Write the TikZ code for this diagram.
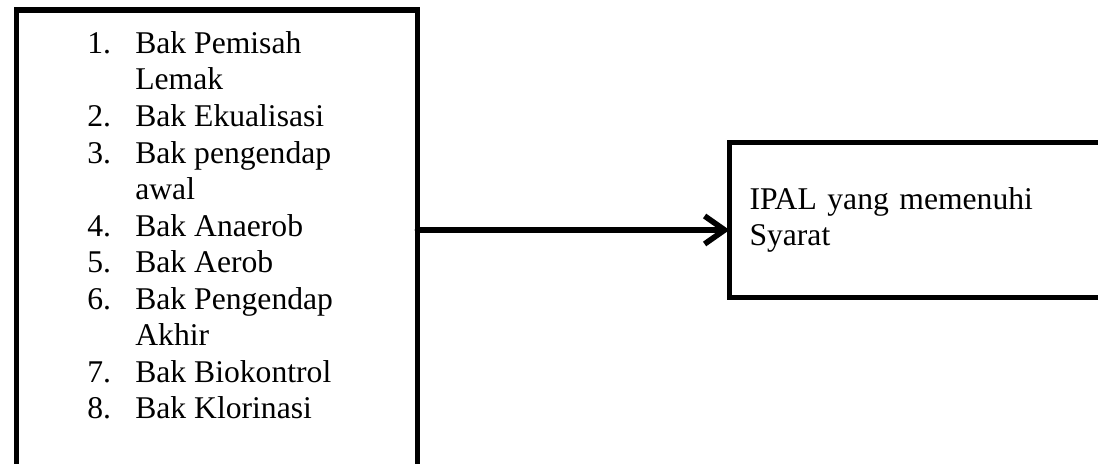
\documentclass[tikz,border=0pt]{standalone}
\usepackage{fontspec}
\setmainfont{Liberation Serif}
\usepackage{tikz}
\usetikzlibrary{arrows.meta, positioning}

\begin{document}
\begin{tikzpicture}[
    node distance=6.24cm,
    box/.style={rectangle, draw=black, line width=3.2pt, outer sep=0pt, fill=white},
    listing/.style={inner sep=0pt, anchor=north west, font=\fontsize{18}{20.8}\selectfont},
    arrow/.style={line width=3.2pt, -{Straight Barb[length=0.4cm, width=0.56cm, line width=3.2pt]}, line cap=round}
]
    \clip (0,0) rectangle (21.96,-9.28);

    \node[box, minimum width=8.02cm, minimum height=9.4cm] (bak) at (4.34,-4.9) {};
    \node[listing] (daftar) at (1.74,-0.55) {%
        \begin{tabular}{@{}p{0.96cm}@{}l@{}}
        1. & Bak Pemisah\\
           & Lemak\\
        2. & Bak Ekualisasi\\
        3. & Bak pengendap\\
           & awal\\
        4. & Bak Anaerob\\
        5. & Bak Aerob\\
        6. & Bak Pengendap\\
           & Akhir\\
        7. & Bak Biokontrol\\
        8. & Bak Klorinasi
        \end{tabular}};
    \node[box, right=of bak.east, anchor=west, yshift=0.5cm, minimum width=7.8cm, minimum height=3.1cm,
          align=left, text width=7.0cm, inner xsep=0.4cm, font=\fontsize{18}{20.8}\selectfont] (ipal)
        {IPAL yang memenuhi\\Syarat};

    \coordinate (tengah) at (0,-4.6);
    \draw[arrow] (bak.east |- tengah) -- (ipal.west |- tengah);

\end{tikzpicture}
\end{document}
